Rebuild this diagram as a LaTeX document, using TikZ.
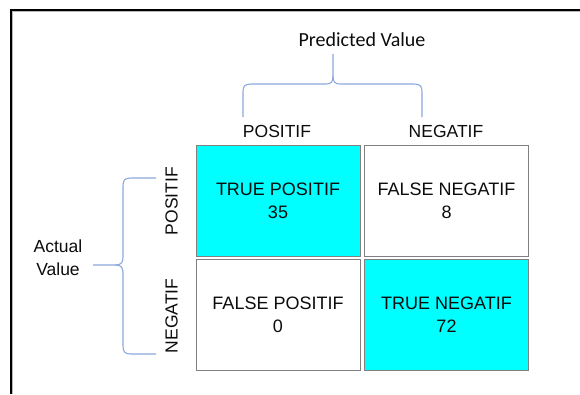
\documentclass[tikz,border=0pt]{standalone}
\usepackage{fontspec}
\setmainfont{Liberation Sans}
\newfontfamily\calibri{Carlito}
\definecolor{cellcyan}{RGB}{0,255,255}
\definecolor{cellgray}{RGB}{128,128,128}
\definecolor{bracecol}{RGB}{140,168,220}
\definecolor{inkcol}{RGB}{12,12,12}
\begin{document}
\begin{tikzpicture}[x=1pt, y={(0pt,-1pt)},
  cell/.style={draw=cellgray, line width=1pt, rectangle, minimum width=164pt,
    minimum height=111pt, inner sep=0pt, align=center, text=inkcol,
    font=\fontsize{18}{23.3}\selectfont},
  hit/.style={cell, fill=cellcyan},
  miss/.style={cell, fill=white},
  axislabel/.style={text=inkcol, inner sep=0pt, font=\fontsize{17.5}{23}\selectfont},
  brace/.style={draw=bracecol, line width=1.1pt, line join=round}]
\useasboundingbox (0,0) rectangle (580,394);

% frame lines (top and left) with a soft grey edge
\draw[gray!55, line width=1.2pt] (12.3,394) -- (12.3,11.6) -- (580,11.6);
\draw[black, line width=1.5pt] (10.8,394) -- (10.8,10) -- (580,10);

% confusion matrix cells
\node[hit]  (tp) at (278,201)   {TRUE POSITIF\\35};
\node[miss] (fn) at (446.5,201) {FALSE NEGATIF\\8};
\node[miss] (fp) at (278,315)   {FALSE POSITIF\\0};
\node[hit]  (tn) at (446.5,315) {TRUE NEGATIF\\72};

% column headings
\node[axislabel, anchor=base] (colpos) at (277,137) {POSITIF};
\node[axislabel, anchor=base] (colneg) at (446,137) {NEGATIF};

% row headings
\node[axislabel, rotate=90] (rowpos) at (171.5,201) {POSITIF};
\node[axislabel, rotate=90] (rowneg) at (171.5,316) {NEGATIF};

% titles
\node[text=inkcol, inner sep=0pt, font=\calibri\fontsize{20}{24}\selectfont]
  (pred) at (362,40) {Predicted Value};
\node[axislabel, align=center] (act) at (58,258) {Actual\\Value};

% brace over the predicted columns
\draw[brace] (243,117) -- (243,92) .. controls (243,86) and (245,84) .. (251,84)
  -- (326,84) .. controls (331,84) and (333,82) .. (333,76) -- (333,54);
\draw[brace] (333,76) .. controls (333,82) and (335,84) .. (340,84)
  -- (414,84) .. controls (420,84) and (422,86) .. (422,92) -- (422,117);

% brace beside the actual rows
\draw[brace] (156,178) -- (131,178) .. controls (125,178) and (123,180) .. (123,186)
  -- (123,257) .. controls (123,263) and (121,265) .. (115,265) -- (93,265);
\draw[brace] (115,265) .. controls (121,265) and (123,267) .. (123,273)
  -- (123,346) .. controls (123,352) and (125,354) .. (131,354) -- (156,354);
\end{tikzpicture}
\end{document}
